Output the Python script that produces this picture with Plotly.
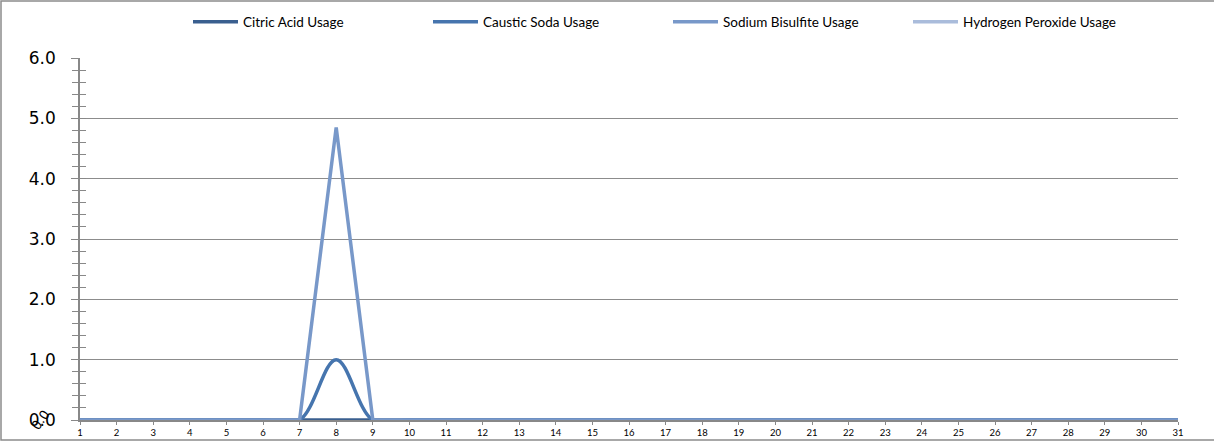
import plotly.graph_objects as go

days = list(range(1, 32))
citric_acid = [0.0] * 31
caustic_soda = [0, 0, 0, 0, 0, 0, 0, 1.0, 0] + [0] * 22
sodium_bisulfite = [0, 0, 0, 0, 0, 0, 0, 4.85, 0] + [0] * 22
hydrogen_peroxide = [None] * 31

W, H = 1214, 442
L, R, T, B = 80, 36, 58, 22

fig = go.Figure()

fig.add_trace(go.Scatter(x=days, y=citric_acid, mode="lines", name="Citric Acid Usage",
                         line=dict(color="#3A5F8F", width=3.5)))
fig.add_trace(go.Scatter(x=days, y=caustic_soda, mode="lines", name="Caustic Soda Usage",
                         line=dict(color="#4675AE", width=3.5, shape="spline", smoothing=1.0)))
fig.add_trace(go.Scatter(x=days, y=sodium_bisulfite, mode="lines", name="Sodium Bisulfite Usage",
                         line=dict(color="#7898C9", width=3.5)))
fig.add_trace(go.Scatter(x=days, y=hydrogen_peroxide, mode="lines", name="Hydrogen Peroxide Usage",
                         line=dict(color="#AABCDB", width=3.5)))

# invisible trace on y2 so the crossing tick marks get drawn
fig.add_trace(go.Scatter(x=[1], y=[0], yaxis="y2", mode="lines", showlegend=False,
                         hoverinfo="skip", line=dict(width=0)))

pw = W - L - R
ph = H - T - B

fig.update_layout(
    width=W, height=H,
    margin=dict(l=L, r=R, t=T, b=B, autoexpand=False),
    paper_bgcolor="white", plot_bgcolor="white",
    font=dict(family="Lato, Liberation Sans, sans-serif", color="#000000"),
    legend=dict(orientation="h", xref="container", yref="container",
                x=668 / W, xanchor="center", y=1 - 22 / H, yanchor="middle",
                font=dict(size=13.5), itemwidth=45, traceorder="normal",
                entrywidthmode="pixels", entrywidth=180),
    showlegend=True,
    xaxis=dict(range=[1, 31], tickmode="array", tickvals=days, ticktext=[str(d) for d in days],
               tickfont=dict(size=9.5), ticks="outside", ticklen=3, tickcolor="#888888",
               automargin=False,
               showgrid=False, zeroline=False, showline=True, linecolor="#888888", linewidth=1.5),
    yaxis=dict(range=[0, 6], tickmode="array", tickvals=[0, 1, 2, 3, 4, 5, 6],
               ticktext=["0.0", "1.0", "2.0", "3.0", "4.0", "5.0", "6.0"],
               tickfont=dict(size=17, family="DejaVu Sans, sans-serif"),
               ticks="outside", ticklen=7, tickcolor="#888888", ticklabelstandoff=12,
               automargin=False,
               minor=dict(dtick=0.2, ticks="outside", ticklen=6, tickcolor="#888888", showgrid=False),
               showgrid=True, gridcolor="#8C8C8C", gridwidth=1,
               zeroline=False, showline=True, linecolor="#888888", linewidth=1.5),
    yaxis2=dict(range=[0, 6], overlaying="y", side="left", tickmode="array",
                tickvals=[0, 1, 2, 3, 4, 5, 6], showticklabels=False, automargin=False,
                ticks="inside", ticklen=6, tickcolor="#888888",
                minor=dict(dtick=0.2, ticks="inside", ticklen=6, tickcolor="#888888", showgrid=False),
                showgrid=False, zeroline=False, showline=False),
)

# outer chart border
fig.add_shape(type="rect", xref="paper", yref="paper",
              x0=(1 - L) / pw, x1=(W + 5 - L) / pw,
              y0=-(B - 2) / ph, y1=(H - 1 - B) / ph,
              line=dict(color="#8C8C8C", width=1.5), layer="below")

# overlapping rotated label near the origin
fig.add_annotation(x=0, y=0, xref="paper", yref="y", text="0.0", showarrow=False,
                   xanchor="center", yanchor="middle", xshift=-40, yshift=0, textangle=-55,
                   font=dict(size=13, family="DejaVu Sans, sans-serif", color="#000000"))

fig.write_html("out.html", config={"displayModeBar": False},
               post_script="document.body.style.margin='0';")
